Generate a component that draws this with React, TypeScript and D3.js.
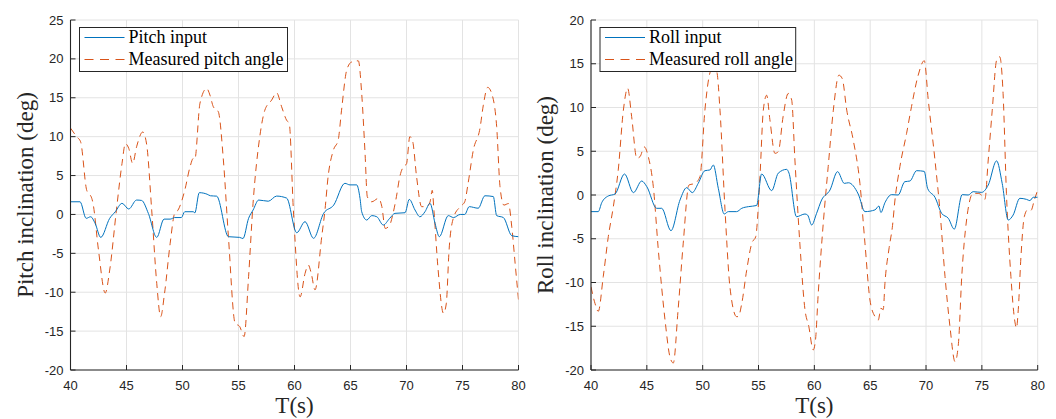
import React from "react";
import * as d3 from "d3";

// ---- Pitch panel data ----
const pitchInputT = [40.0, 40.85, 41.4, 41.8, 42.2, 42.7, 43.5, 44.0, 44.6, 45.2, 45.9, 46.35, 46.95, 47.7, 48.35, 48.9, 49.3, 49.9, 50.2, 50.96, 51.1, 51.5, 52.2, 52.5, 53.05, 54.1, 55.1, 55.4, 55.9, 56.3, 56.8, 57.66, 58.4, 59.3, 60.2, 60.94, 61.7, 62.6, 63.5, 64.5, 64.95, 65.55, 65.85, 66.0, 66.45, 66.9, 67.35, 67.93, 68.5, 68.97, 69.87, 70.25, 70.76, 71.2, 71.65, 72.1, 72.55, 72.93, 73.73, 74.2, 74.8, 75.2, 75.6, 76.4, 77.0, 77.75, 78.05, 78.65, 79.4, 80.0];
const pitchInput = [1.63, 1.63, -0.5, -0.3, -1.15, -2.95, -0.5, 0.35, 1.43, 0.7, 1.85, 1.8, 0.14, -2.95, -0.6, -0.6, -0.4, -0.4, 0.35, 0.35, 0.2, 2.8, 2.6, 2.4, 2.35, -2.86, -2.95, -3.1, -0.5, 0.56, 1.85, 1.7, 2.36, 2.1, -2.35, -0.93, -3.07, 0.14, 1.2, 4.0, 3.8, 3.8, 2.07, 0.35, -0.72, -0.15, -0.3, -1.36, -0.5, 0.14, 0.22, 1.94, 0.57, -0.3, 0.35, 1.43, -1.15, -2.86, -0.15, -0.4, 0.0, 0.0, 1.0, 0.8, 2.4, 2.3, -0.15, -0.4, -2.73, -2.86];

const pitchMeasuredT = [40.0, 40.55, 40.9, 41.45, 41.9, 42.0, 42.5, 43.1, 43.5, 44.1, 44.6, 44.9, 45.2, 45.55, 45.9, 46.45, 46.8, 47.25, 47.7, 48.05, 48.4, 48.9, 49.3, 49.6, 50.2, 50.67, 50.96, 51.1, 51.56, 52.16, 52.45, 52.75, 53.2, 53.65, 54.1, 54.7, 55.1, 55.5, 55.9, 56.3, 56.9, 57.35, 57.96, 58.4, 58.85, 59.3, 59.53, 59.9, 60.5, 60.94, 61.23, 61.5, 61.83, 62.43, 62.72, 63.0, 63.48, 63.9, 64.2, 64.66, 65.1, 65.7, 66.0, 66.3, 66.5, 66.9, 67.5, 67.8, 68.1, 68.5, 68.8, 69.1, 69.4, 69.7, 70.0, 70.3, 70.55, 70.9, 71.35, 71.8, 72.1, 72.3, 72.45, 72.8, 73.3, 73.55, 73.8, 74.2, 74.8, 75.2, 75.5, 75.97, 76.56, 76.86, 77.25, 77.7, 78.05, 78.35, 78.7, 79.1, 79.4, 79.7, 80.0];
const pitchMeasured = [11.1, 10.0, 9.35, 3.1, 2.07, 1.5, -4.6, -10.1, -7.15, 0.56, 6.56, 9.1, 8.5, 6.56, 8.7, 10.6, 9.0, 0.56, -8.85, -13.15, -10.1, -3.7, 0.14, 0.56, 3.1, 6.1, 7.2, 7.1, 14.3, 16.2, 15.35, 13.85, 13.2, 7.0, -2.87, -14.0, -14.4, -15.7, -8.0, 1.43, 10.0, 13.4, 14.7, 15.65, 13.85, 12.1, 11.7, 0.56, -10.6, -7.6, -6.5, -7.6, -9.7, -2.87, 0.56, 4.85, 8.3, 9.56, 13.4, 18.55, 19.6, 19.75, 15.55, 7.85, 2.28, 1.63, 2.07, 1.0, -1.8, -1.36, 0.14, 2.28, 4.85, 6.1, 6.5, 10.0, 9.4, 4.85, 1.0, 1.0, 1.6, 3.1, 0.5, -6.7, -12.7, -11.5, -4.6, -0.4, 1.0, 1.63, 4.0, 8.3, 11.07, 14.06, 16.34, 15.1, 11.3, 3.56, 1.2, 1.4, -1.6, -6.3, -11.0];

// ---- Roll panel data ----
const rollInputT = [40.0, 40.65, 40.96, 41.55, 42.15, 43.0, 43.8, 44.54, 45.0, 45.88, 46.33, 47.16, 47.97, 48.57, 49.07, 49.6, 50.2, 50.65, 50.95, 51.4, 51.93, 52.3, 53.04, 53.5, 54.1, 54.83, 55.28, 56.18, 56.77, 57.52, 57.73, 58.4, 59.16, 59.4, 59.76, 60.2, 60.65, 61.4, 62.08, 62.68, 63.05, 63.93, 64.53, 65.43, 65.78, 65.96, 66.32, 66.92, 67.5, 68.1, 68.56, 69.16, 69.84, 70.14, 70.8, 71.4, 72.0, 72.53, 73.24, 73.78, 74.22, 74.98, 75.57, 76.32, 76.82, 77.36, 77.8, 78.4, 79.0, 79.3, 79.6, 80.0];
const rollInput = [-1.9, -1.9, -0.88, -0.11, 0.11, 2.4, 0.27, 1.6, 0.95, -1.52, -1.52, -4.08, -0.57, 0.84, 0.27, 1.33, 2.78, 2.86, 3.43, 0.76, -2.17, -1.9, -1.9, -1.52, -1.33, -1.2, 2.4, 0.5, 2.5, 2.93, 2.5, -2.48, -2.17, -2.3, -3.43, -2.1, -0.57, 0.57, 2.67, 1.33, 1.4, 0.11, -1.9, -1.7, -1.26, -2.0, -0.88, 0.04, 0.0, 1.52, 1.6, 2.78, 2.7, 0.76, -0.26, -2.1, -2.67, -3.9, 0.04, 0.0, 0.38, 0.3, 1.14, 3.9, 1.33, -2.86, -2.29, -0.38, -0.5, -0.64, -0.26, -0.26];

const rollMeasuredT = [40.0, 40.36, 40.65, 41.1, 41.55, 42.0, 42.44, 42.9, 43.28, 43.64, 44.1, 44.39, 44.77, 45.13, 45.58, 46.03, 46.63, 47.07, 47.37, 47.8, 48.26, 48.77, 49.3, 49.76, 50.2, 50.8, 51.25, 51.55, 52.0, 52.44, 53.04, 53.19, 53.5, 53.94, 54.4, 54.75, 55.13, 55.43, 55.73, 56.02, 56.47, 56.77, 57.2, 57.66, 57.97, 58.26, 58.7, 59.16, 59.5, 59.9, 60.1, 60.35, 60.8, 61.24, 61.7, 62.2, 62.5, 62.9, 63.48, 64.08, 64.53, 64.98, 65.43, 65.72, 65.96, 66.17, 66.32, 66.7, 67.0, 67.2, 67.66, 68.26, 68.7, 69.3, 69.84, 70.2, 70.8, 71.24, 71.7, 72.14, 72.6, 72.9, 73.2, 73.63, 74.22, 74.67, 75.1, 75.27, 75.57, 75.93, 76.32, 76.6, 76.9, 77.2, 77.6, 77.96, 78.1, 78.26, 78.5, 78.8, 79.1, 79.4, 79.7, 80.0];
const rollMeasured = [-10.5, -12.4, -13.3, -9.3, -4.76, -1.33, 2.86, 9.7, 12.2, 8.95, 4.2, 4.38, 5.5, 4.38, 0.95, -6.3, -14.3, -18.5, -19.2, -13.1, -5.5, 1.14, 1.33, 2.1, 9.7, 14.3, 14.1, 9.7, -1.7, -10.5, -13.9, -13.9, -12.4, -8.6, -5.5, -4.76, 2.1, 9.7, 11.4, 8.6, 4.76, 4.95, 8.95, 11.6, 10.86, 4.0, -5.5, -13.1, -15.0, -17.7, -16.6, -11.2, -3.2, 3.24, 9.7, 13.7, 13.3, 9.7, 6.3, 1.33, -5.5, -12.0, -13.9, -14.3, -12.95, -13.1, -10.1, -6.0, -3.5, -0.8, 3.24, 7.05, 10.1, 13.7, 15.35, 10.86, 4.0, -1.7, -9.3, -15.0, -19.05, -17.0, -9.3, -2.86, 0.19, 0.19, -0.2, -0.5, 4.0, 9.7, 15.4, 15.8, 11.6, 0.19, -9.3, -14.5, -15.2, -13.1, -7.05, -2.48, -1.7, -1.75, -0.57, 0.57];

// ---- Axis ticks and labels ----
const xTicks = [40, 45, 50, 55, 60, 65, 70, 75, 80];
const pitchYTicks = [-20, -15, -10, -5, 0, 5, 10, 15, 20, 25];
const rollYTicks = [-20, -15, -10, -5, 0, 5, 10, 15, 20];
const pitchLegend = ["Pitch input", "Measured pitch angle"];
const rollLegend = ["Roll input", "Measured roll angle"];

const BLUE = "#0072BD";
const ORANGE = "#D95319";
const AXIS = "#262626";
const GRID = "#e3e3e3";
const SANS = "'Liberation Sans', Arial, Helvetica, sans-serif";
const SERIF = "'Liberation Serif', 'Times New Roman', serif";

type PanelProps = {
  left: number;
  width: number;
  yTicks: number[];
  yLabel: string;
  legend: string[];
  legendWidth: number;
  inputT: number[];
  input: number[];
  measT: number[];
  meas: number[];
};

function Panel(p: PanelProps) {
  const top = 20;
  const height = 350;
  const x = d3.scaleLinear().domain([40, 80]).range([p.left, p.left + p.width]);
  const y = d3
    .scaleLinear()
    .domain([p.yTicks[0], p.yTicks[p.yTicks.length - 1]])
    .range([top + height, top]);

  const line = d3
    .line<[number, number]>()
    .x((d) => x(d[0]))
    .y((d) => y(d[1]))
    .curve(d3.curveMonotoneX);

  const inputPts = p.inputT.map((t, i) => [t, p.input[i]] as [number, number]);
  const measPts = p.measT.map((t, i) => [t, p.meas[i]] as [number, number]);

  const x0 = p.left;
  const x1 = p.left + p.width;
  const y0 = top + height;
  const tickLen = 5;
  const lgX = p.left + 9;
  const lgY = 27.5;

  return (
    <g>
      {/* grid */}
      {xTicks.map((t) => (
        <line key={"gx" + t} x1={x(t)} x2={x(t)} y1={top} y2={y0} stroke={GRID} strokeWidth={1} />
      ))}
      {p.yTicks.map((t) => (
        <line key={"gy" + t} x1={x0} x2={x1} y1={y(t)} y2={y(t)} stroke={GRID} strokeWidth={1} />
      ))}

      <defs>
        <clipPath id={"clip" + p.left}>
          <rect x={x0} y={top} width={p.width} height={height} />
        </clipPath>
      </defs>
      <g clipPath={`url(#clip${p.left})`}>
        <path d={line(measPts) || ""} fill="none" stroke={ORANGE} strokeWidth={1} strokeDasharray="7,5" />
        <path d={line(inputPts) || ""} fill="none" stroke={BLUE} strokeWidth={1} />
      </g>

      {/* axes */}
      <line x1={x0} x2={x0} y1={top} y2={y0} stroke={AXIS} strokeWidth={1.1} />
      <line x1={x0} x2={x1} y1={y0} y2={y0} stroke={AXIS} strokeWidth={1.1} />
      {xTicks.map((t) => (
        <g key={"xt" + t}>
          <line x1={x(t)} x2={x(t)} y1={y0} y2={y0 - tickLen} stroke={AXIS} strokeWidth={1} />
          <text x={x(t)} y={389.5} textAnchor="middle" fontFamily={SANS} fontSize={13} fill={AXIS}>
            {t}
          </text>
        </g>
      ))}
      {p.yTicks.map((t) => (
        <g key={"yt" + t}>
          <line x1={x0} x2={x0 + tickLen} y1={y(t)} y2={y(t)} stroke={AXIS} strokeWidth={1} />
          <text x={x0 - 7} y={y(t) + 4.5} textAnchor="end" fontFamily={SANS} fontSize={13} fill={AXIS}>
            {t}
          </text>
        </g>
      ))}

      {/* axis titles */}
      <text
        x={(x0 + x1) / 2}
        y={413}
        textAnchor="middle"
        fontFamily={SERIF}
        fontSize={23}
        fill={AXIS}
      >
        T(s)
      </text>
      <text
        transform={`translate(${x0 - 38},${top + height / 2}) rotate(-90)`}
        textAnchor="middle"
        fontFamily={SERIF}
        fontSize={23}
        fill={AXIS}
      >
        {p.yLabel}
      </text>

      {/* legend */}
      <rect x={lgX} y={lgY} width={p.legendWidth} height={44} fill="#fff" stroke={AXIS} strokeWidth={1} />
      <line x1={lgX + 5} x2={lgX + 45} y1={lgY + 10} y2={lgY + 10} stroke={BLUE} strokeWidth={1} />
      <line
        x1={lgX + 5}
        x2={lgX + 45}
        y1={lgY + 32}
        y2={lgY + 32}
        stroke={ORANGE}
        strokeWidth={1}
        strokeDasharray="9,6.5"
      />
      <text x={lgX + 49} y={lgY + 15} fontFamily={SERIF} fontSize={18} fill="#000">
        {p.legend[0]}
      </text>
      <text x={lgX + 49} y={lgY + 37} fontFamily={SERIF} fontSize={18} fill="#000">
        {p.legend[1]}
      </text>
    </g>
  );
}

export default function App() {
  return (
    <svg
      width={1056}
      height={419}
      viewBox="0 0 1056 419"
      style={{ position: "absolute", left: 0, top: 0, background: "#fff" }}
    >
      <rect width={1056} height={419} fill="#fff" />
      <Panel
        left={70.5}
        width={448}
        yTicks={pitchYTicks}
        yLabel="Pitch inclination (deg)"
        legend={pitchLegend}
        legendWidth={208}
        inputT={pitchInputT}
        input={pitchInput}
        measT={pitchMeasuredT}
        meas={pitchMeasured}
      />
      <Panel
        left={591}
        width={446.7}
        yTicks={rollYTicks}
        yLabel="Roll inclination (deg)"
        legend={rollLegend}
        legendWidth={195.7}
        inputT={rollInputT}
        input={rollInput}
        measT={rollMeasuredT}
        meas={rollMeasured}
      />
    </svg>
  );
}
